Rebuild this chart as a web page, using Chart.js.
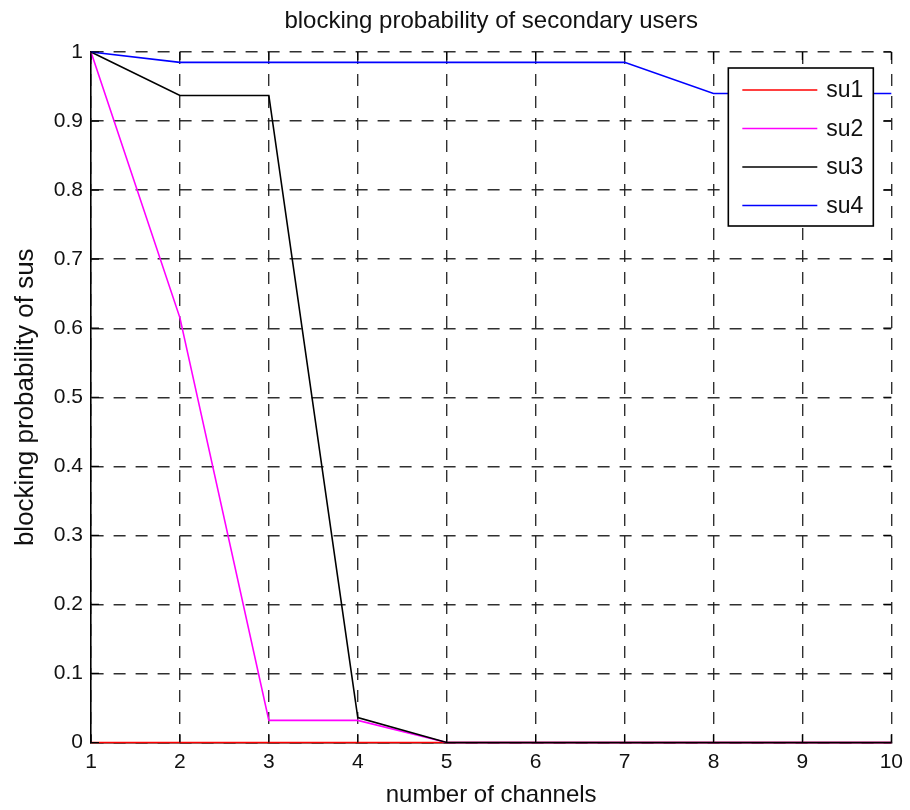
<!DOCTYPE html>
<html>
<head>
<meta charset="utf-8">
<title>blocking probability of secondary users</title>
<script src="https://cdn.jsdelivr.net/npm/chart.js@4"></script>
<style>
    body { margin: 0; background: #fff; }
    canvas { display: block; }
</style>
</head>
<body>
<canvas id="blockChart" width="910" height="810"></canvas>
<script>
// Data
const channels = [1, 2, 3, 4, 5, 6, 7, 8, 9, 10];
const su1 = [0, 0, 0, 0, 0, 0, 0, 0, 0, 0];
const su2 = [1, 0.615, 0.032, 0.032, 0, 0, 0, 0, 0, 0];
const su3 = [1, 0.937, 0.937, 0.036, 0, 0, 0, 0, 0, 0];
const su4 = [1, 0.985, 0.985, 0.985, 0.985, 0.985, 0.985, 0.94, 0.94, 0.94];
const seriesNames = ['su1', 'su2', 'su3', 'su4'];
const xTicks = [1, 2, 3, 4, 5, 6, 7, 8, 9, 10];
const yTicks = [0, 0.1, 0.2, 0.3, 0.4, 0.5, 0.6, 0.7, 0.8, 0.9, 1];

const colors = ['#ff0000', '#ff00ff', '#000000', '#0000ff'];
const FONT = 'Liberation Sans, Arial, Helvetica, sans-serif';

const toPoints = (ys) => channels.map((x, i) => ({ x: x, y: ys[i] }));

// matlab-like inward ticks on all four sides
const innerTicks = {
    id: 'innerTicks',
    afterDatasetsDraw(chart) {
        const { ctx, chartArea: a, scales } = chart;
        const len = 8;
        ctx.save();
        ctx.strokeStyle = '#000';
        ctx.lineWidth = 1.2;
        ctx.beginPath();
        xTicks.forEach(v => {
            const px = scales.x.getPixelForValue(v);
            ctx.moveTo(px, a.bottom); ctx.lineTo(px, a.bottom - len);
            ctx.moveTo(px, a.top); ctx.lineTo(px, a.top + len);
        });
        yTicks.forEach(v => {
            const py = scales.y.getPixelForValue(v);
            ctx.moveTo(a.left, py); ctx.lineTo(a.left + len, py);
            ctx.moveTo(a.right, py); ctx.lineTo(a.right - len, py);
        });
        ctx.stroke();
        ctx.restore();
    }
};

// boxed legend in the top right corner of the axes
const boxLegend = {
    id: 'boxLegend',
    afterDraw(chart) {
        const { ctx, chartArea: a } = chart;
        const w = 145, h = 158;
        const x0 = a.right - 18 - w;
        const y0 = a.top + 16;
        ctx.save();
        ctx.fillStyle = '#fff';
        ctx.fillRect(x0, y0, w, h);
        ctx.strokeStyle = '#000';
        ctx.lineWidth = 1.6;
        ctx.strokeRect(x0, y0, w, h);
        ctx.font = '23px ' + FONT;
        ctx.textBaseline = 'middle';
        chart.data.datasets.forEach((ds, i) => {
            const y = y0 + 22 + i * 38.5;
            ctx.strokeStyle = ds.borderColor;
            ctx.lineWidth = 1.5;
            ctx.beginPath();
            ctx.moveTo(x0 + 14, y);
            ctx.lineTo(x0 + 89, y);
            ctx.stroke();
            ctx.fillStyle = '#111';
            ctx.fillText(ds.label, x0 + 98, y + 1);
        });
        ctx.restore();
    }
};

const gridStyle = {
    color: 'rgba(25,25,25,0.9)',
    lineWidth: 1.4,
    drawTicks: false
};

new Chart(document.getElementById('blockChart'), {
    type: 'line',
    data: {
        datasets: [su1, su2, su3, su4].map((s, i) => ({
            label: seriesNames[i],
            data: toPoints(s),
            borderColor: colors[i],
            borderWidth: 1.6,
            pointRadius: 0,
            tension: 0,
            fill: false,
            clip: false,
            order: 4 - i
        }))
    },
    options: {
        responsive: false,
        animation: false,
        devicePixelRatio: 1,
        layout: { padding: { left: 0, right: 18, top: 0, bottom: 0 } },
        plugins: {
            legend: { display: false },
            tooltip: { enabled: false },
            title: {
                display: true,
                text: 'blocking probability of secondary users',
                fullSize: false,
                color: '#111',
                font: { family: FONT, size: 24, weight: 'normal' },
                padding: { top: 7, bottom: 16.2 }
            }
        },
        scales: {
            x: {
                type: 'linear',
                min: 1,
                max: 10,
                afterBuildTicks: (scale) => { scale.ticks = xTicks.map(v => ({ value: v })); },
                afterFit: (scale) => { scale.height = 67.5; },
                grid: gridStyle,
                border: { display: true, color: '#000', width: 1.6, dash: [12, 10] },
                ticks: {
                    color: '#111',
                    padding: 7,
                    maxRotation: 0,
                    font: { family: FONT, size: 21 },
                    callback: (v) => String(v)
                },
                title: {
                    display: true,
                    text: 'number of channels',
                    color: '#111',
                    font: { family: FONT, size: 24 },
                    padding: { top: 0, bottom: 0 }
                }
            },
            y: {
                type: 'linear',
                min: 0,
                max: 1,
                afterBuildTicks: (scale) => { scale.ticks = yTicks.map(v => ({ value: v })); },
                afterFit: (scale) => { scale.width = 91; },
                grid: gridStyle,
                border: { display: true, color: '#000', width: 1.6, dash: [12, 10] },
                ticks: {
                    color: '#111',
                    padding: 8,
                    font: { family: FONT, size: 21 },
                    callback: (v) => String(v)
                },
                title: {
                    display: true,
                    text: 'blocking probability of sus',
                    color: '#111',
                    font: { family: FONT, size: 26 },
                    padding: { top: 10, bottom: 0 }
                }
            }
        }
    },
    plugins: [innerTicks, boxLegend]
});
</script>
</body>
</html>
